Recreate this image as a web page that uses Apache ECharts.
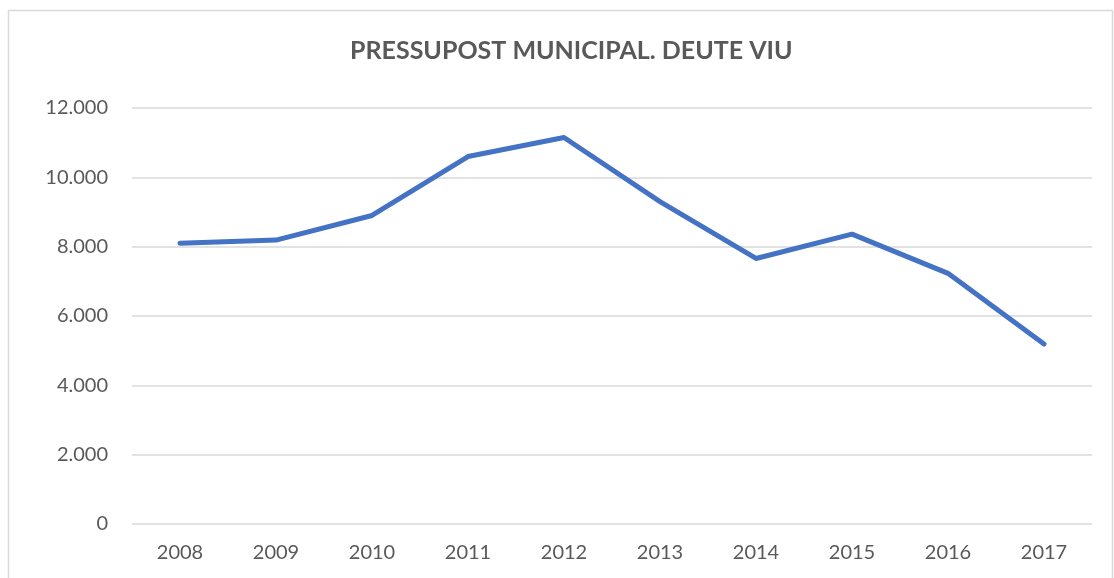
<!DOCTYPE html>
<html>
<head>
<meta charset="utf-8">
<script src="https://cdn.jsdelivr.net/npm/echarts@6/dist/echarts.min.js"></script>
<style>
  html, body { margin: 0; padding: 0; background: #fff; }
  #chart { width: 1114px; height: 578px; }
</style>
</head>
<body>
<div id="chart"></div>
<script>
// dades llegides del gràfic
const years = ['2008', '2009', '2010', '2011', '2012', '2013', '2014', '2015', '2016', '2017']
const deuteViu = [8100, 8190, 8900, 10600, 11150, 9300, 7660, 8360, 7230, 5190]
const yTicks = [0, 2000, 4000, 6000, 8000, 10000, 12000]

const fmt = (v) => String(v).replace(/\B(?=(\d{3})+(?!\d))/g, '.')

const chart = echarts.init(document.getElementById('chart'))
chart.setOption({
  animation: false,
  textStyle: { fontFamily: 'Lato, sans-serif' },
  title: {
    text: 'PRESSUPOST MUNICIPAL. DEUTE VIU',
    left: 345,
    top: 33,
    textStyle: { fontSize: 25, fontWeight: 'bold', color: '#595959', fontFamily: 'Lato, sans-serif' },
  },
  // marc del gràfic
  graphic: [
    {
      type: 'rect',
      shape: { x: 8.5, y: 10.5, width: 1104, height: 600 },
      style: { fill: 'none', stroke: '#d9d9d9', lineWidth: 1.5 },
      silent: true,
    },
  ],
  grid: { left: 132, right: 22, top: 108, bottom: 54 },
  xAxis: {
    type: 'category',
    data: years,
    boundaryGap: true,
    axisLine: { show: false },
    axisTick: { show: false },
    axisLabel: { color: '#595959', fontSize: 20, margin: 19 },
  },
  yAxis: {
    type: 'value',
    min: yTicks[0],
    max: yTicks[yTicks.length - 1],
    interval: 2000,
    axisLine: { show: false },
    axisTick: { show: false },
    axisLabel: { color: '#595959', fontSize: 20, margin: 24, formatter: (v) => fmt(v) },
    splitLine: { lineStyle: { color: '#d9d9d9', width: 1.5 } },
  },
  series: [
    {
      type: 'line',
      data: deuteViu,
      showSymbol: false,
      lineStyle: { color: '#4472C4', width: 5, cap: 'round', join: 'round' },
    },
  ],
})
</script>
</body>
</html>
